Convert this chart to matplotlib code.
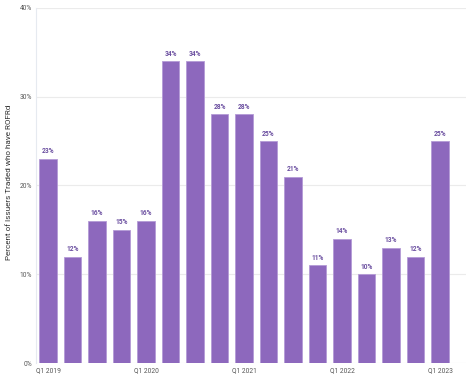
import matplotlib
matplotlib.use("Agg")
import matplotlib.pyplot as plt
import numpy as np

quarters = ["Q1 2019","Q2 2019","Q3 2019","Q4 2019","Q1 2020","Q2 2020","Q3 2020","Q4 2020",
            "Q1 2021","Q2 2021","Q3 2021","Q4 2021","Q1 2022","Q2 2022","Q3 2022","Q4 2022","Q1 2023"]
values = [23, 12, 16, 15, 16, 34, 34, 28, 28, 25, 21, 11, 14, 10, 13, 12, 25]
yticks = [0, 10, 20, 30, 40]
ytick_labels = ["0%", "10%", "20%", "30%", "40%"]

plt.rcParams['font.family'] = ['Roboto', 'DejaVu Sans']
fig = plt.figure(figsize=(4.71, 3.77), dpi=100)
ax = fig.add_axes([0.0764, 0.037, 0.913, 0.942])

x = np.arange(len(values))
ax.bar(x, values, width=0.7, color="#8d68bd", edgecolor="#b49ad6", linewidth=0.6, zorder=3)
for xi, v in zip(x, values):
    ax.text(xi, v + 0.4, f"{v}%", ha="center", va="bottom", fontsize=4.8,
            fontweight="bold", color="#6b4fa0", zorder=4)

ax.set_xlim(-0.49, 17.06)
ax.set_ylim(0, 40)
ax.set_yticks(yticks)
ax.set_yticklabels(ytick_labels, fontsize=4.8, color="#555555")
ax.set_xticks([0, 4, 8, 12, 16])
ax.set_xticklabels([quarters[i] for i in [0, 4, 8, 12, 16]], fontsize=4.8, color="#555555")
ax.tick_params(axis="both", length=0, pad=3)
ax.grid(axis="y", color="#ebebeb", linewidth=0.8, zorder=0)
for s in ["top", "right", "bottom"]:
    ax.spines[s].set_visible(False)
ax.spines["left"].set_color("#e6eaf0")
ax.spines["left"].set_linewidth(0.8)
ax.set_ylabel("Percent of Issuers Traded who have ROFRd", fontsize=5.9, color="#333333")
ax.yaxis.set_label_coords(-0.056, 0.51)

fig.savefig("out.png", dpi=100)
